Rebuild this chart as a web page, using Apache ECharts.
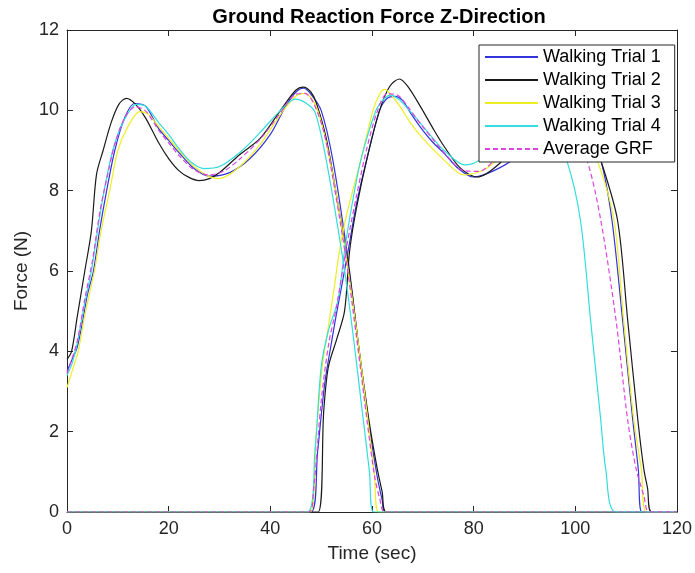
<!DOCTYPE html>
<html>
<head>
<meta charset="utf-8">
<script src="https://cdn.jsdelivr.net/npm/echarts@6/dist/echarts.min.js"></script>
<style>html,body{margin:0;padding:0;background:#fff;}#c{width:695px;height:573px;}</style>
</head>
<body>
<div id="c"></div>
<script>
// ---- data ----
var xTicks = [0, 20, 40, 60, 80, 100, 120];
var yTicks = [0, 2, 4, 6, 8, 10, 12];
var seriesNames = ['Walking Trial 1', 'Walking Trial 2', 'Walking Trial 3', 'Walking Trial 4', 'Average GRF'];

// Walking Trial 1 - first stance
var t1a = [0, 1, 2, 3, 4, 5.2, 6.4, 7.8, 9.4, 11.3, 13.3, 15.5, 18, 20, 22, 25, 28, 32, 36, 40, 43, 45, 46.5, 48, 50, 52.3, 55.3, 57.5, 59.5, 61, 62, 62.6, 120];
var f1a = [3.5, 3.8, 4.1, 4.7, 5.4, 6.0, 7.0, 8.0, 9.0, 9.8, 10.17, 10.1, 9.55, 9.25, 8.95, 8.55, 8.36, 8.45, 8.8, 9.4, 10.1, 10.45, 10.55, 10.4, 10.0, 8.76, 6.27, 4.0, 2.1, 0.9, 0.3, 0, 0];
// Walking Trial 1 - second stance
var t1b = [0, 48, 49.3, 50.7, 52, 52.9, 54, 55.3, 57, 59.2, 61.5, 63, 64.5, 66, 67.6, 70, 72, 74.2, 77, 80, 84, 87.9, 92, 96, 99, 101.5, 105, 107.2, 109.3, 111.3, 112.4, 113.1, 120];
var f1b = [0, 0, 1.5, 3.2, 4.2, 4.86, 5.6, 6.5, 7.7, 8.9, 10.0, 10.3, 10.35, 10.25, 9.93, 9.5, 9.2, 8.93, 8.55, 8.34, 8.5, 8.8, 9.5, 10.1, 10.2, 9.85, 8.76, 7.27, 4.78, 2.29, 1.05, 0, 0];

// Walking Trial 2
var t2a = [0, 0.9, 2, 3.5, 4.8, 5.8, 7.1, 8.7, 10.2, 11.7, 13.5, 15.5, 18, 20, 22, 24, 26, 28, 30, 34, 38, 42, 45, 46.5, 48, 49, 51, 53, 55.5, 57.5, 59.5, 61, 62, 62.8, 120];
var f2a = [3.8, 4.0, 4.85, 6.0, 7.0, 8.4, 9.0, 9.7, 10.15, 10.3, 10.15, 9.8, 9.2, 8.8, 8.5, 8.33, 8.25, 8.3, 8.45, 8.9, 9.3, 10.0, 10.5, 10.58, 10.45, 10.2, 9.3, 7.9, 6.0, 4.0, 2.2, 1.1, 0.5, 0, 0];
var t2b = [0, 49.4, 50.5, 51.4, 53, 54.6, 55.6, 57, 59.2, 61.5, 63.5, 65.4, 67, 69.6, 72, 74.2, 77.4, 80.7, 85.2, 90, 95, 99, 102, 105, 108.3, 110.3, 112.3, 113.5, 114.2, 115, 120];
var f2b = [0, 0, 2.5, 3.6, 4.28, 5.0, 6.5, 7.6, 8.9, 10.0, 10.6, 10.78, 10.6, 10.08, 9.55, 9.1, 8.56, 8.34, 8.69, 9.4, 10.2, 10.3, 9.8, 8.76, 7.27, 4.78, 2.29, 1.05, 0.6, 0, 0];

// Walking Trial 3
var t3a = [0, 1, 2.2, 3.5, 5.4, 6.7, 8.4, 10, 12, 14.3, 16, 18, 20, 22, 25, 28, 30, 34, 38, 42, 45, 46.8, 49, 51, 53, 55, 57, 59, 60.5, 61.3, 120];
var f3a = [3.1, 3.5, 4.0, 4.9, 6.0, 7.0, 8.0, 9.0, 9.6, 9.97, 9.9, 9.6, 9.3, 9.0, 8.6, 8.35, 8.3, 8.6, 9.15, 9.9, 10.35, 10.42, 10.1, 9.2, 7.9, 6.3, 4.5, 2.5, 0.9, 0, 0];
var t3b = [0, 47.8, 49, 50.2, 51.4, 52.7, 53.6, 55, 57.8, 60.2, 61.5, 62.5, 64, 65.5, 67.6, 70, 74.2, 78.1, 82.6, 87, 92, 96, 100, 104.3, 107.6, 109.5, 111.5, 113, 114, 120];
var f3b = [0, 0, 1.9, 3.6, 4.6, 5.7, 6.5, 7.4, 8.76, 10.0, 10.4, 10.52, 10.35, 10.1, 9.68, 9.3, 8.76, 8.39, 8.56, 9.1, 9.8, 10.2, 9.9, 8.76, 7.27, 4.78, 2.29, 1.05, 0, 0];

// Walking Trial 4
var t4a = [0, 1, 2, 3.5, 4.8, 6, 7.3, 9, 11, 13.7, 15.5, 18, 20, 22, 24.5, 27, 30, 34, 38, 42, 44.9, 47, 48.8, 51, 54.3, 56, 58, 59.5, 60.3, 120];
var f4a = [3.4, 3.7, 4.2, 5.2, 6.0, 7.0, 8.0, 9.0, 9.7, 10.15, 10.1, 9.7, 9.4, 9.05, 8.7, 8.55, 8.6, 8.95, 9.45, 10.0, 10.28, 10.18, 9.95, 8.76, 6.27, 4.7, 2.6, 1.0, 0, 0];
var t4b = [0, 47.3, 48.8, 50, 51.4, 53.3, 54.6, 56, 57.8, 60.8, 62.5, 63.7, 65.5, 67, 69, 72, 74.2, 78.3, 81, 85, 89, 92, 95, 98.3, 101, 103, 105, 106, 108, 120];
var f4b = [0, 0, 1.54, 3.6, 4.5, 5.27, 6.5, 7.6, 8.76, 10.0, 10.3, 10.38, 10.25, 10.05, 9.76, 9.3, 9.0, 8.64, 8.75, 9.2, 9.7, 9.85, 9.6, 8.76, 7.27, 4.78, 2.29, 1.05, 0, 0];

// Average GRF
var tAa = [0, 2, 3.5, 5, 6.5, 8, 9.5, 11.5, 13.5, 15.5, 18, 20, 22, 25, 28, 31, 34, 38, 42, 45, 46.8, 48.5, 50.5, 52.5, 55, 57, 59, 60.5, 61.5, 62.6, 120];
var fAa = [3.45, 4.25, 5.3, 6.26, 7.5, 8.4, 9.2, 9.85, 10.09, 9.98, 9.51, 9.19, 8.88, 8.52, 8.39, 8.5, 8.79, 9.28, 9.94, 10.4, 10.42, 10.18, 9.47, 8.16, 6.2, 4.3, 2.3, 0.9, 0.35, 0, 0];
var tAb = [0, 47.5, 48.5, 50, 51.5, 53, 55, 57, 59, 61, 63, 65, 67, 70, 74, 78, 81, 85, 90, 95, 99, 102.3, 105, 108, 110.3, 112, 113.5, 114.5, 120];
var fAb = [0, 0, 0.55, 2.75, 4.2, 5.1, 6.6, 7.9, 9.06, 9.96, 10.41, 10.38, 10.1, 9.59, 8.98, 8.5, 8.48, 8.89, 9.48, 9.94, 9.63, 8.76, 7.27, 4.78, 2.29, 1.05, 0.4, 0, 0];

// ---- build chart ----
function pairs(t, f) { return t.map(function (v, i) { return [v, f[i]]; }); }
var FONT = '"Liberation Sans", Arial, Helvetica, sans-serif';
var AX = '#262626';
var colors = ['#3333dd', '#1a1a1a', '#eeee22', '#33dddd', '#dd44dd'];
var sets = [
  [t1a, f1a, t1b, f1b],
  [t2a, f2a, t2b, f2b],
  [t3a, f3a, t3b, f3b],
  [t4a, f4a, t4b, f4b],
  [tAa, fAa, tAb, fAb]
];
var series = [];
sets.forEach(function (s, k) {
  [[s[0], s[1]], [s[2], s[3]]].forEach(function (p) {
    series.push({
      type: 'line', name: seriesNames[k], data: pairs(p[0], p[1]),
      xAxisIndex: 0, yAxisIndex: 0,
      showSymbol: false, symbol: 'none', smooth: 0.3,
      color: colors[k],
      lineStyle: { color: colors[k], width: 1.2, type: k === 4 ? [5, 3] : 'solid' },
      emphasis: { disabled: true }
    });
  });
});

function axisBase(extra) {
  var o = {
    type: 'value', splitLine: { show: false },
    axisLine: { show: true, onZero: false, lineStyle: { color: AX, width: 1 } },
    axisTick: { show: true, inside: true, length: 6, lineStyle: { color: AX } }
  };
  for (var k in extra) o[k] = extra[k];
  return o;
}

var chart = echarts.init(document.getElementById('c'), null, { renderer: 'canvas' });
chart.setOption({
  animation: false,
  backgroundColor: '#fff',
  color: colors,
  title: {
    text: 'Ground Reaction Force Z-Direction', left: 374, top: 2, textAlign: 'center',
    textStyle: { fontFamily: FONT, fontSize: 20, fontWeight: 'bold', color: '#000' }
  },
  grid: { left: 67, right: 14, top: 30, bottom: 61, containLabel: false },
  legend: {
    orient: 'vertical', left: 479, top: 45,
    data: seriesNames,
    itemWidth: 53, itemHeight: 14, itemGap: 5,
    padding: [3, 14, 4, 5],
    backgroundColor: '#fff', borderColor: AX, borderWidth: 1,
    itemStyle: { opacity: 0 },
    textStyle: { fontFamily: FONT, fontSize: 18, color: '#000' },
    selectedMode: false
  },
  xAxis: [
    axisBase({
      min: xTicks[0], max: xTicks[xTicks.length - 1], interval: 20, position: 'bottom',
      axisLabel: { fontFamily: FONT, fontSize: 18, color: AX, margin: 8 },
      name: 'Time (sec)', nameLocation: 'middle', nameGap: 32, nameMoveOverlap: false,
      nameTextStyle: { fontFamily: FONT, fontSize: 19, color: AX }
    }),
    axisBase({
      min: xTicks[0], max: xTicks[xTicks.length - 1], interval: 20, position: 'top',
      axisLabel: { show: false }
    })
  ],
  yAxis: [
    axisBase({
      min: yTicks[0], max: yTicks[yTicks.length - 1], interval: 2, position: 'left',
      axisLabel: { fontFamily: FONT, fontSize: 18, color: AX, margin: 8 },
      name: 'Force (N)', nameLocation: 'middle', nameGap: 36, nameMoveOverlap: false,
      nameTextStyle: { fontFamily: FONT, fontSize: 19, color: AX }
    }),
    axisBase({
      min: yTicks[0], max: yTicks[yTicks.length - 1], interval: 2, position: 'right',
      axisLabel: { show: false }
    })
  ],
  series: series
});
</script>
</body>
</html>
